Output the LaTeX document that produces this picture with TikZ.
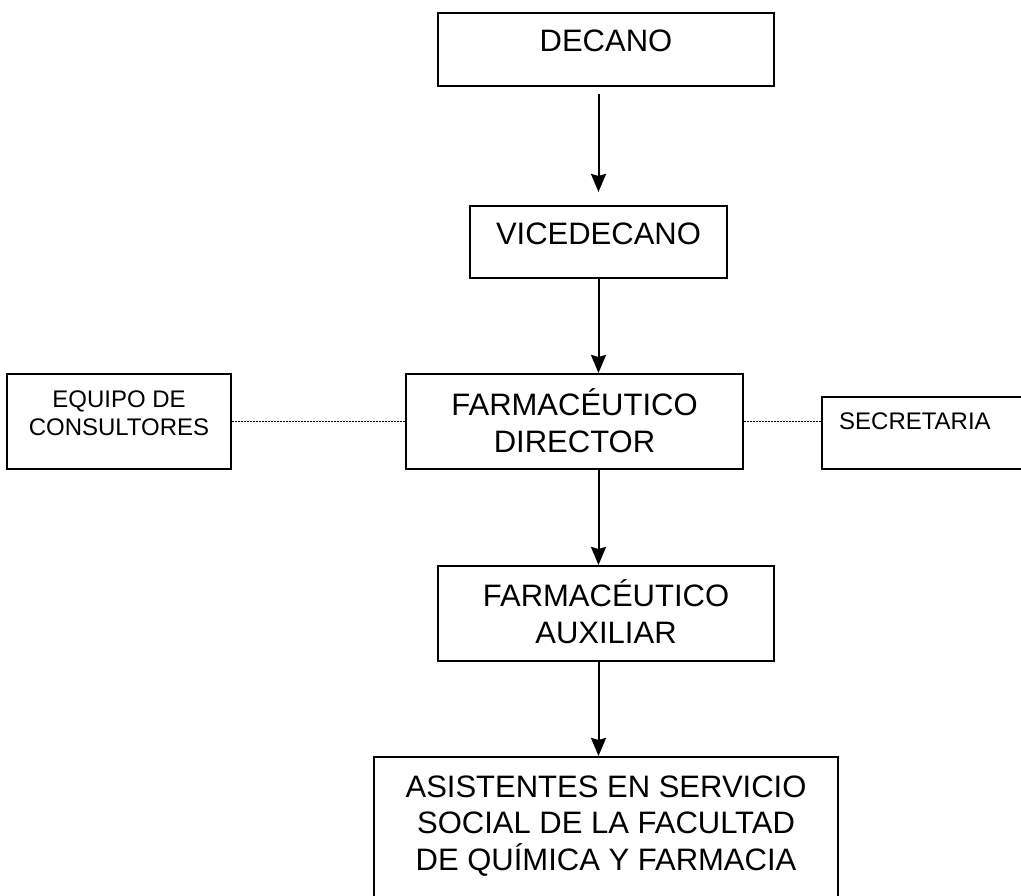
\documentclass[tikz,border=0pt]{standalone}
\usepackage{fontspec}
\setmainfont{Liberation Sans}
\usetikzlibrary{arrows.meta,calc,positioning}
\tikzset{
  orgbox/.style n args={2}{draw, line width=2.1pt, minimum width=#1, minimum height=#2, inner sep=0pt},
  bigtxt/.style={anchor=north, yshift=-9.5pt, align=center, inner sep=0pt,
        font=\fontsize{31}{37}\selectfont, execute at begin node={\rule{0pt}{29.5pt}}},
  smalltxt/.style={anchor=north, yshift=-11pt, align=center, inner sep=0pt,
        font=\fontsize{24}{28}\selectfont, execute at begin node={\rule{0pt}{22.8pt}}},
  flow/.style={-{Stealth[length=18pt, width=15pt, inset=2pt]}, line width=2pt},
  link/.style={dash pattern=on 1.5pt off 1.5pt, line width=1.5pt},
}
\begin{document}
\begin{tikzpicture}[x=1pt, y=-1pt]
  \clip (0,0) rectangle (1021,896);
  % main line
  \node[orgbox={336pt}{73pt}, label={[bigtxt]north:DECANO}] (decano) at (606,49.5) {};
  \node[orgbox={257pt}{72pt}, label={[bigtxt]north:VICEDECANO}] (vice) at (598.5,242) {};
  \node[orgbox={337pt}{95pt}, label={[bigtxt, yshift=-6pt]north:FARMACÉUTICO\\DIRECTOR}] (dir) at (574.5,421.5) {};
  \node[orgbox={336pt}{95pt}, label={[bigtxt, yshift=-5pt]north:FARMACÉUTICO\\AUXILIAR}] (aux) at (606,613.5) {};
  \node[orgbox={464pt}{150pt},
        label={[bigtxt, yshift=-10pt, font=\fontsize{31}{36.5}\selectfont]north:ASISTENTES EN SERVICIO\\SOCIAL DE LA FACULTAD\\DE QUÍMICA Y FARMACIA}] (asist) at (606,832) {};
  % staff boxes
  \node[orgbox={224pt}{95pt}, label={[smalltxt, yshift=-7pt]north:EQUIPO DE\\CONSULTORES}] (equipo) at (119,421.5) {};
  \node[orgbox={220pt}{72pt},
        label={[smalltxt, anchor=north west, xshift=18pt]north west:SECRETARIA}] (secre) at (932,433) {};
  % arrows
  \draw[flow, shorten <=7pt, shorten >=13pt] (vice.north |- decano.south) -- (vice.north);
  \draw[flow] (vice.south) -- (vice.south |- dir.north);
  \draw[flow] (vice.south |- dir.south) -- (vice.south |- aux.north);
  \draw[flow] (vice.south |- aux.south) -- (vice.south |- asist.north);
  % dotted links
  \draw[link] (equipo.east) -- (dir.west);
  \draw[link] (dir.east) -- (dir.east -| secre.west);
\end{tikzpicture}
\end{document}
